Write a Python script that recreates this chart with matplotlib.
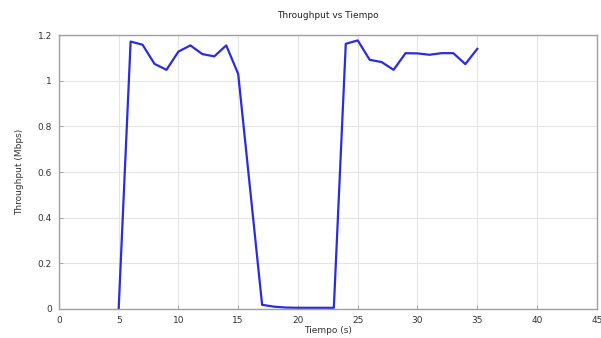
import matplotlib
matplotlib.use('Agg')
import matplotlib.pyplot as plt
from matplotlib.ticker import FuncFormatter

# throughput samples
tiempo = [5, 6, 7, 8, 9, 10, 11, 12, 13, 14, 15, 17, 18, 19, 20, 21, 22, 23,
          24, 25, 26, 27, 28, 29, 30, 31, 32, 33, 34, 35]
throughput = [0.0, 1.172, 1.158, 1.074, 1.048, 1.128, 1.155, 1.117, 1.107, 1.155, 1.03,
              0.018, 0.01, 0.006, 0.005, 0.005, 0.005, 0.005,
              1.162, 1.177, 1.092, 1.082, 1.048, 1.121, 1.12, 1.114, 1.121, 1.121, 1.073, 1.14]

x_ticks = [0, 5, 10, 15, 20, 25, 30, 35, 40, 45]
y_ticks = [0, 0.2, 0.4, 0.6, 0.8, 1, 1.2]

plt.rcParams['font.family'] = 'DejaVu Sans'

fig = plt.figure(figsize=(6.01, 3.38), dpi=100)
ax = fig.add_axes([0.098, 0.086, 0.895, 0.810])

ax.plot(tiempo, throughput, color='#2b2be0', lw=1.6)

ax.set_xlim(0, 45)
ax.set_ylim(0, 1.2)
ax.set_xticks(x_ticks)
ax.set_yticks(y_ticks)
ax.yaxis.set_major_formatter(FuncFormatter(lambda v, p: '%g' % v))

ax.grid(color='#e4e4e4', lw=0.8)
for s in ax.spines.values():
    s.set_color('#a0a0a0')
    s.set_linewidth(1.0)
ax.tick_params(direction='in', length=3, width=0.6, colors='#9a9a9a',
               labelcolor='#333333', labelsize=6.5, pad=5)

ax.set_title('Throughput vs Tiempo', fontsize=6.5, color='#222222', pad=12)
ax.set_xlabel('Tiempo (s)', fontsize=6.5, color='#333333', labelpad=1)
ax.set_ylabel('Throughput (Mbps)', fontsize=6.5, color='#333333', labelpad=10)

fig.savefig('out.png', dpi=100)
